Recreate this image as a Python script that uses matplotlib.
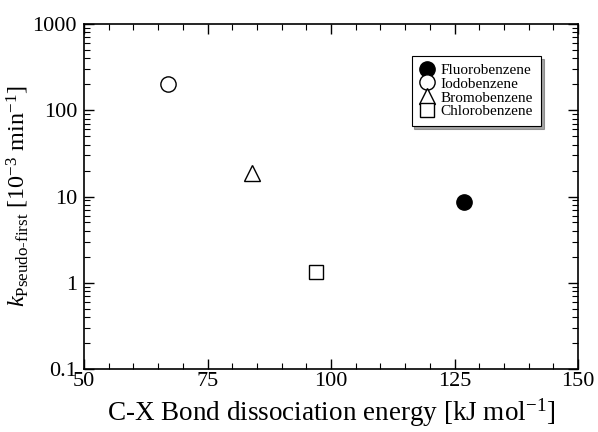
import matplotlib.pyplot as plt
from matplotlib.ticker import FixedLocator, MultipleLocator, LogLocator, NullFormatter

plt.rcParams['font.family'] = 'Liberation Serif'
plt.rcParams['mathtext.fontset'] = 'custom'
plt.rcParams['mathtext.rm'] = 'Liberation Serif'
plt.rcParams['mathtext.it'] = 'Liberation Serif:italic'

names = ['Fluorobenzene', 'Iodobenzene', 'Bromobenzene', 'Chlorobenzene']
energy = [127, 67, 84, 97]          # kJ/mol
k_rate = [8.7, 200, 18.5, 1.34]     # 10^-3 min^-1
markers = ['o', 'o', '^', 's']
fills = ['black', 'white', 'white', 'white']

yticks = [0.1, 1, 10, 100, 1000]
ylabels = ['0.1', '1', '10', '100', '1000']

fig = plt.figure(figsize=(5.98, 4.32), dpi=100)
ax = fig.add_axes([0.1405, 0.1458, 0.8261, 0.7986])

for n, x, y, m, f in zip(names, energy, k_rate, markers, fills):
    ax.plot(x, y, linestyle='none', marker=m, markersize=11 if m != 's' else 10,
            markerfacecolor=f, markeredgecolor='black', markeredgewidth=1.0, label=n)

ax.set_yscale('log')
ax.set_xlim(50, 150)
ax.set_ylim(0.1, 1000)
ax.xaxis.set_major_locator(MultipleLocator(25))
ax.xaxis.set_minor_locator(MultipleLocator(5))
ax.yaxis.set_major_locator(FixedLocator(yticks))
ax.set_yticklabels(ylabels)
ax.yaxis.set_minor_locator(LogLocator(base=10, subs=range(2, 10)))
ax.yaxis.set_minor_formatter(NullFormatter())

ax.tick_params(which='both', direction='in', top=True, right=True, labelsize=16)
ax.tick_params(axis='y', which='major', pad=5)
ax.tick_params(axis='x', which='major', pad=2)
ax.tick_params(which='major', length=7, width=1)
ax.tick_params(which='minor', length=4, width=0.8)
for s in ax.spines.values():
    s.set_linewidth(1.2)

ax.set_xlabel('C-X Bond dissociation energy [kJ mol$^{-1}$]', fontsize=19.5, labelpad=4)
ax.set_ylabel('$k_{\\mathrm{Pseudo\\text{-}first}}$ [10$^{-3}$ min$^{-1}$]', fontsize=17.5, labelpad=1)

leg = ax.legend(loc='upper right', bbox_to_anchor=(0.94, 0.93), fontsize=11,
                frameon=True, fancybox=False, shadow=True, edgecolor='black',
                framealpha=1, handletextpad=0.4, labelspacing=0.0,
                borderpad=0.5, handlelength=1.0)
leg.get_frame().set_linewidth(0.8)

fig.savefig('out.png', dpi=100)
